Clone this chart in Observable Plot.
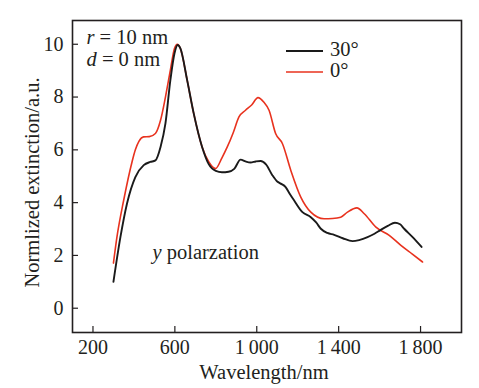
<!DOCTYPE html>
<html><head><meta charset="utf-8">
<script src="https://cdn.jsdelivr.net/npm/d3@7"></script>
<script src="https://cdn.jsdelivr.net/npm/@observablehq/plot@0.6"></script>
<style>body{margin:0;background:#fff}</style>
</head><body><div id="chart"></div>
<script>
const wavelength30 = [300, 334, 366, 407, 448, 480, 505, 530, 554, 578, 598, 614, 627, 660, 692, 733, 766, 800, 830, 862, 890, 921, 945, 970, 995, 1019, 1045, 1076, 1100, 1117, 1141, 1160, 1182, 1223, 1264, 1290, 1313, 1345, 1378, 1420, 1468, 1500, 1541, 1575, 1606, 1640, 1675, 1700, 1720, 1760, 1805];
const extinction30 = [1.0, 2.69, 3.96, 4.97, 5.42, 5.54, 5.6, 6.11, 7.0, 8.64, 9.65, 9.97, 9.84, 8.64, 7.38, 6.11, 5.45, 5.2, 5.15, 5.17, 5.28, 5.63, 5.56, 5.52, 5.56, 5.58, 5.45, 5.04, 4.8, 4.72, 4.59, 4.35, 4.09, 3.64, 3.45, 3.25, 3.01, 2.85, 2.78, 2.65, 2.54, 2.58, 2.69, 2.82, 2.97, 3.12, 3.24, 3.18, 3.01, 2.7, 2.32];
const wavelength0 = [300, 317, 350, 391, 407, 425, 447, 475, 505, 530, 554, 578, 598, 612, 627, 660, 692, 733, 766, 799, 830, 856, 885, 913, 945, 975, 1006, 1035, 1060, 1092, 1125, 1166, 1215, 1264, 1329, 1370, 1410, 1443, 1489, 1525, 1582, 1647, 1704, 1760, 1810];
const extinction0 = [1.71, 2.69, 4.09, 5.55, 6.0, 6.33, 6.49, 6.5, 6.62, 7.12, 8.0, 9.02, 9.84, 10.0, 9.84, 8.64, 7.38, 6.11, 5.54, 5.29, 5.7, 6.11, 6.65, 7.25, 7.5, 7.7, 7.98, 7.8, 7.5, 6.62, 6.24, 5.23, 4.21, 3.64, 3.39, 3.4, 3.45, 3.64, 3.8, 3.58, 3.07, 2.76, 2.38, 2.05, 1.75];
const xTicks = [200, 600, 1000, 1400, 1800];
const xTickLabels = ["200", "600", "1\u2009000", "1\u2009400", "1\u2009800"];
const yTicks = [0, 2, 4, 6, 8, 10];
const seriesNames = ["30°", "0°"];
const seriesColors = ["#1a1a1a", "#e8321e"];

const W = 479, H = 388, mL = 72, mT = 20, mR = 18, mB = 56;
const fw = W - mL - mR, fh = H - mT - mB;
const font = "'Liberation Serif', 'Times New Roman', serif";
const s30 = wavelength30.map((x, i) => ({x, y: extinction30[i]}));
const s0 = wavelength0.map((x, i) => ({x, y: extinction0[i]}));

const plot = Plot.plot({
  width: W, height: H,
  marginLeft: mL, marginTop: mT, marginRight: mR, marginBottom: mB,
  style: {fontFamily: font, fontSize: "20px", color: "#231f20", background: "#fff"},
  x: {domain: [100, 2000]},
  y: {domain: [-0.92, 10.9]},
  marks: [
    Plot.axisX(xTicks, {tickSize: 0, tickPadding: 7, tickFormat: d => xTickLabels[xTicks.indexOf(d)], label: null, fontSize: 20}),
    Plot.axisY(yTicks, {tickSize: 0, tickPadding: 9, label: null, fontSize: 20}),
    Plot.ruleX(xTicks, {insetTop: fh - 6, stroke: "#231f20", strokeWidth: 1.2}),
    Plot.ruleY(yTicks, {insetRight: fw - 6, stroke: "#231f20", strokeWidth: 1.2}),
    Plot.line(s0, {x: "x", y: "y", stroke: seriesColors[1], strokeWidth: 1.6, curve: "monotone-x"}),
    Plot.line(s30, {x: "x", y: "y", stroke: seriesColors[0], strokeWidth: 1.9, curve: "monotone-x"}),
    Plot.frame({stroke: "#231f20", strokeWidth: 1.6}),
    Plot.text(["r = 10 nm"], {frameAnchor: "top-left", dx: 14, dy: 17, textAnchor: "start", lineAnchor: "middle", fontSize: 20.5, fill: "#231f20"}),
    Plot.text(["d = 0 nm"], {frameAnchor: "top-left", dx: 14, dy: 39, textAnchor: "start", lineAnchor: "middle", fontSize: 20.5, fill: "#231f20"}),
    Plot.text(["y polarzation"], {frameAnchor: "top-left", dx: 80, dy: 232, textAnchor: "start", lineAnchor: "middle", fontSize: 20.5, fill: "#231f20"}),
    Plot.text(["Wavelength/nm"], {frameAnchor: "bottom", dx: -3, dy: 40, lineAnchor: "middle", fontSize: 20.5, fill: "#231f20"}),
    Plot.text(["Normlized extinction/a.u."], {frameAnchor: "left", dx: -40, dy: 6, rotate: -90, textAnchor: "middle", lineAnchor: "middle", fontSize: 20.5, fill: "#231f20"})
  ]
});

const svg = d3.select(plot);
svg.selectAll("text").each(function () {
  const t = this.textContent;
  const m = {"r = 10 nm": ["r", " = 10 nm"], "d = 0 nm": ["d", " = 0 nm"], "y polarzation": ["y", " polarzation"]}[t];
  if (m) {
    const el = d3.select(this);
    el.text(null);
    el.append("tspan").attr("font-style", "italic").text(m[0]);
    el.append("tspan").text(m[1]);
  }
});
// legend
const lg = svg.append("g").attr("font-family", font).attr("font-size", 20.5).attr("fill", "#231f20").attr("text-anchor", "start");
seriesNames.forEach((name, i) => {
  const y = 51 + i * 21;
  lg.append("line").attr("x1", 286).attr("x2", 323).attr("y1", y).attr("y2", y)
    .attr("stroke", seriesColors[i]).attr("stroke-width", i === 0 ? 2 : 1.7);
  lg.append("text").attr("x", 330).attr("y", y - 2).attr("dy", "0.32em").text(name);
});
document.getElementById("chart").append(plot);
</script>
</body></html>
